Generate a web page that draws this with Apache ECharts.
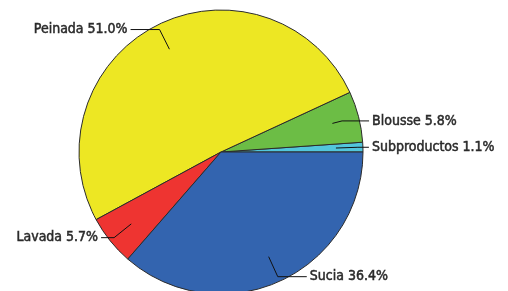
<!DOCTYPE html>
<html>
<head>
<meta charset="utf-8">
<script src="https://cdn.jsdelivr.net/npm/echarts@6/dist/echarts.min.js"></script>
<style>
html,body{margin:0;padding:0;background:#fff}
#chart{width:508px;height:291px}
</style>
</head>
<body>
<div id="chart"></div>
<script>
// slices listed counterclockwise starting at 3 o'clock
var names=['Subproductos','Blousse','Peinada','Lavada','Sucia']
var values=[1.1,5.8,51.0,5.7,36.4]
var colors=['#52c6dc','#6cbd45','#ede723','#ee3431','#3364af']
var heads=[22,10,22,22,22]
var tails=[11,27,29,13,29]

var chart=echarts.init(document.getElementById('chart'),null,{renderer:'canvas'})

var fillData=[]
var labelData=[]
for(var i in names){
  fillData.push({name:names[i],value:values[i],itemStyle:{color:colors[i]}})
  labelData.push({name:names[i],value:values[i],labelLine:{length:heads[i],length2:tails[i]}})
}

var option={
  animation:false,
  series:[
    {
      type:'pie',
      center:[221,152],
      radius:142,
      startAngle:0,
      clockwise:false,
      silent:true,
      label:{show:false},
      labelLine:{show:false},
      itemStyle:{borderColor:'#2b2b2b',borderWidth:1},
      data:fillData
    },
    {
      type:'pie',
      z:5,
      center:[221,152],
      radius:115,
      startAngle:0,
      clockwise:false,
      silent:true,
      avoidLabelOverlap:false,
      itemStyle:{color:'rgba(0,0,0,0)',borderWidth:0},
      label:{
        show:true,
        position:'outside',
        fontFamily:"'DejaVu Sans Condensed', 'Liberation Sans Narrow', sans-serif",
        fontSize:14,
        color:'#2a2a2a',
        textBorderColor:'#2a2a2a',
        textBorderWidth:0.5,
        distanceToLabelLine:3,
        formatter:function(p){return p.name+' '+p.value.toFixed(1)+'%'}
      },
      labelLine:{show:true,length:22,lineStyle:{color:'#111',width:1}},
      data:labelData
    }
  ]
}
chart.setOption(option)
</script>
</body>
</html>
